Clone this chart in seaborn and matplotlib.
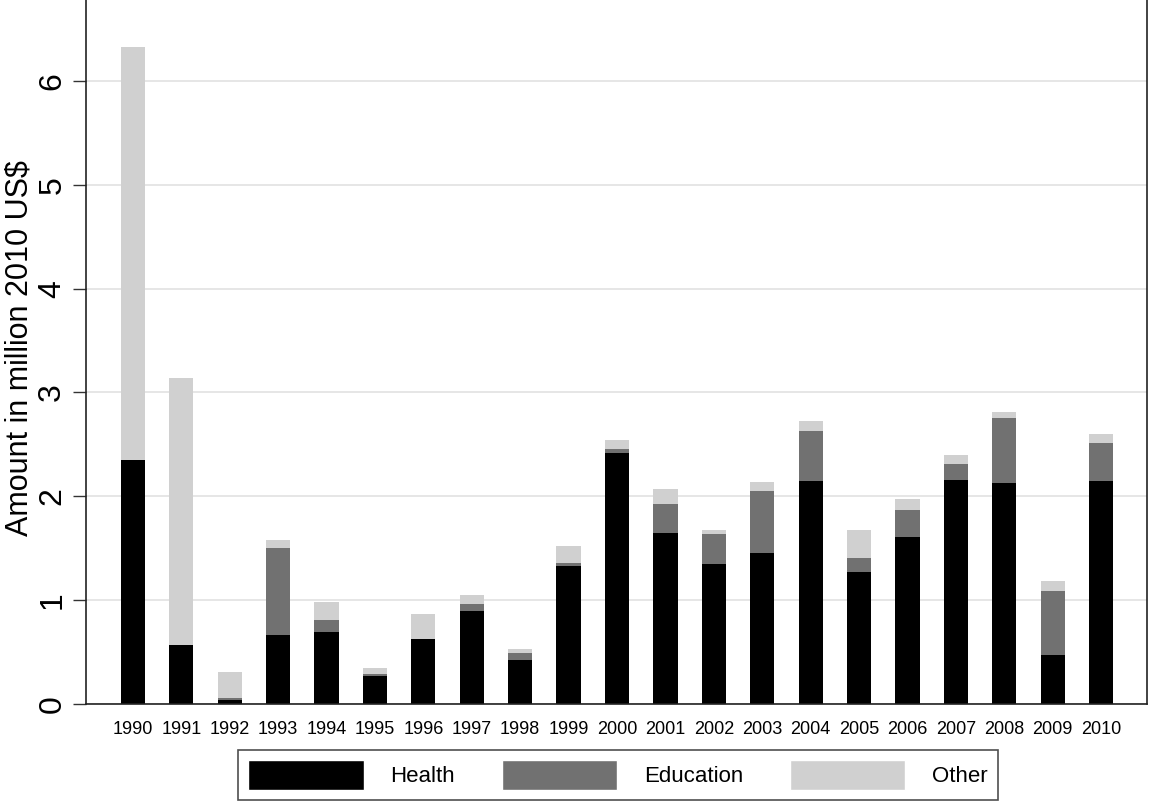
import pandas as pd
import numpy as np
import matplotlib
matplotlib.use('Agg')
import matplotlib.pyplot as plt
import seaborn as sns
from matplotlib.patches import Patch

# data (million 2010 US$)
years = [str(y) for y in range(1990, 2011)]
health = [2.35, 0.57, 0.04, 0.66, 0.69, 0.27, 0.63, 0.90, 0.42, 1.33, 2.42,
          1.65, 1.35, 1.45, 2.15, 1.27, 1.61, 2.16, 2.13, 0.47, 2.15]
education = [0.00, 0.00, 0.02, 0.84, 0.12, 0.02, 0.00, 0.06, 0.07, 0.03, 0.04,
             0.28, 0.29, 0.60, 0.48, 0.14, 0.26, 0.15, 0.62, 0.62, 0.36]
other = [3.98, 2.57, 0.245, 0.08, 0.17, 0.055, 0.24, 0.09, 0.04, 0.16, 0.08,
         0.14, 0.04, 0.09, 0.10, 0.27, 0.10, 0.09, 0.06, 0.09, 0.09]

df = pd.DataFrame({'Year': years, 'Health': health,
                   'Education': education, 'Other': other})
df['HealthEdu'] = df['Health'] + df['Education']
df['Total'] = df['HealthEdu'] + df['Other']

c_health, c_edu, c_other = '#000000', '#717171', '#d0d0d0'

sns.set_style('white')
plt.rcParams['font.family'] = ['Liberation Sans', 'DejaVu Sans']
plt.rcParams['text.color'] = 'black'
plt.rcParams['axes.labelcolor'] = 'black'
plt.rcParams['xtick.color'] = 'black'
plt.rcParams['ytick.color'] = 'black'

fig = plt.figure(figsize=(11.5, 8.09), dpi=100)
ax = fig.add_axes([0.0748, 0.1298, 0.9226, 0.8702])

# stacked bars: draw cumulative totals back to front
sns.barplot(data=df, x='Year', y='Total', color=c_other, width=0.5,
            saturation=1, linewidth=0, order=years, ax=ax)
sns.barplot(data=df, x='Year', y='HealthEdu', color=c_edu, width=0.5,
            saturation=1, linewidth=0, order=years, ax=ax)
sns.barplot(data=df, x='Year', y='Health', color=c_health, width=0.5,
            saturation=1, linewidth=0, order=years, ax=ax)

ax.set_xlim(-0.97, 20.95)
ax.set_ylim(0, 6.78)
ax.set_yticks(range(0, 7))
ax.yaxis.grid(True, color='#e1e1e1', linewidth=1.2)
ax.set_axisbelow(True)

ax.set_xlabel('')
ax.set_ylabel('Amount in million 2010 US$', fontsize=22)
ax.yaxis.set_label_coords(-0.049, 0.505)
ax.tick_params(axis='y', labelsize=23, length=9.5, width=1, color='#333333',
               pad=4, left=True, labelcolor='black')
for lab in ax.get_yticklabels():
    lab.set_rotation(90)
    lab.set_va('center')
ax.tick_params(axis='x', labelsize=13, length=0, pad=12, labelcolor='black')

for side in ['left', 'bottom', 'right']:
    ax.spines[side].set_visible(True)
    ax.spines[side].set_color('#222222')
    ax.spines[side].set_linewidth(1.2)
ax.spines['top'].set_visible(False)

handles = [Patch(facecolor=c_health, label='Health'),
           Patch(facecolor=c_edu, label='Education'),
           Patch(facecolor=c_other, label='Other')]
leg = fig.legend(handles=handles, loc='center', ncol=3,
                 bbox_to_anchor=(618 / 1150, (809 - 775) / 809),
                 fontsize=16, frameon=True, fancybox=False, edgecolor='#222222',
                 handlelength=5.2, handleheight=1.7, handletextpad=1.2,
                 columnspacing=2.1, borderpad=0.45, borderaxespad=0)
leg.get_frame().set_linewidth(1.2)
for t in leg.get_texts():
    t.set_color('black')

fig.savefig('out.png', dpi=100)
